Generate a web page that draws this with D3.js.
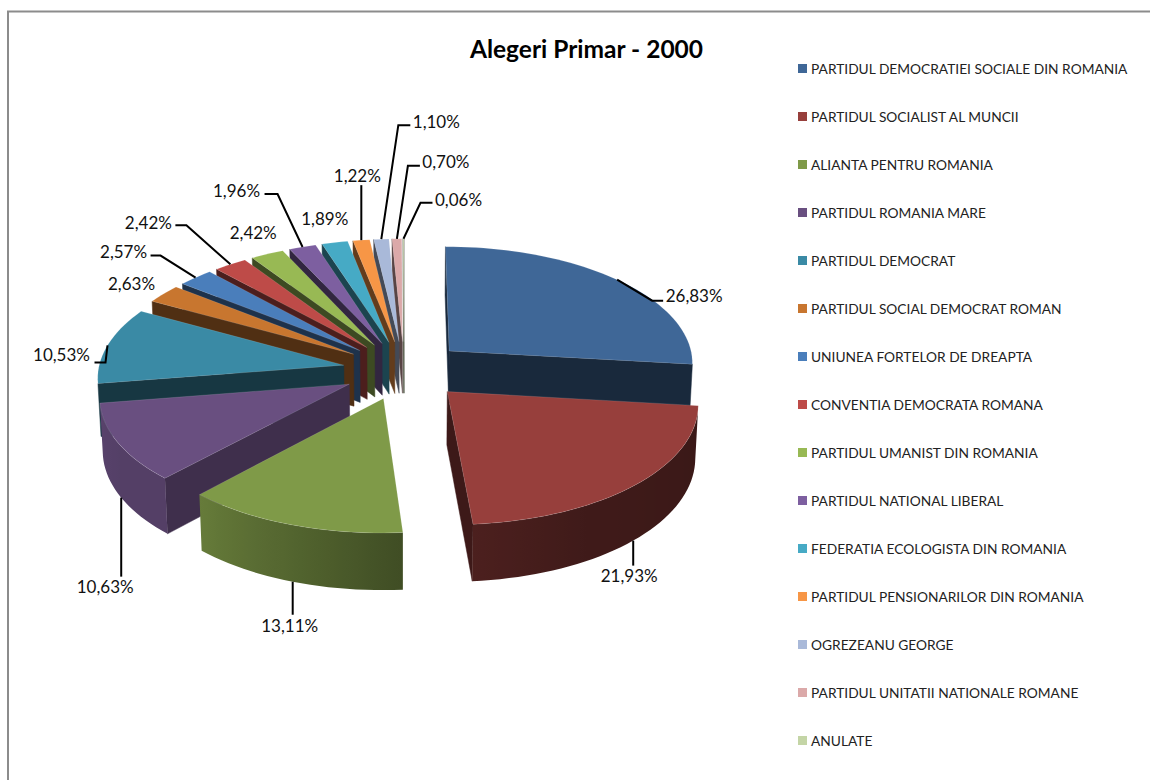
<!DOCTYPE html>
<html><head><meta charset="utf-8">
<script src="https://cdn.jsdelivr.net/npm/d3@7"></script>
<style>html,body{margin:0;padding:0;background:#fff}svg{display:block}text{font-family:Lato,"Open Sans",sans-serif}</style>
</head><body><svg id="c" width="1150" height="780"></svg>
<script>
const chartTitle = "Alegeri Primar - 2000";
const categories = ["PARTIDUL DEMOCRATIEI SOCIALE DIN ROMANIA","PARTIDUL SOCIALIST AL MUNCII","ALIANTA PENTRU ROMANIA","PARTIDUL ROMANIA MARE","PARTIDUL DEMOCRAT","PARTIDUL SOCIAL DEMOCRAT ROMAN","UNIUNEA FORTELOR DE DREAPTA","CONVENTIA DEMOCRATA ROMANA","PARTIDUL UMANIST DIN ROMANIA","PARTIDUL NATIONAL LIBERAL","FEDERATIA ECOLOGISTA DIN ROMANIA","PARTIDUL PENSIONARILOR DIN ROMANIA","OGREZEANU GEORGE","PARTIDUL UNITATII NATIONALE ROMANE","ANULATE"];
const values = [26.83,21.93,13.11,10.63,10.53,2.63,2.57,2.42,2.42,1.96,1.89,1.22,1.10,0.70,0.06];
const valueLabels = ["26,83%","21,93%","13,11%","10,63%","10,53%","2,63%","2,57%","2,42%","2,42%","1,96%","1,89%","1,22%","1,10%","0,70%","0,06%"];
const colors = ["#3f6797","#973f3c","#7f9a48","#694f80","#3a8aa5","#c8762f","#4a7ebb","#be4b48","#98b954","#7d5fa0","#46aac5","#f79646","#a9b9d9","#dba9a9","#c4d5a6"];

// label layout, offsets from each slice's rim anchor
const labelLayout = [
 {bottom:0,tx:77,ty:18,leader:[[35,21],[46,21]]},
 {bottom:1,tx:-4,ty:37,leader:[[0,25]]},
 {bottom:1,tx:-3,ty:46,leader:[[0,33]]},
 {bottom:1,tx:-16,ty:91,leader:[[0,79]]},
 {bottom:0,tx:-46,ty:11,leader:[[-2,17],[-13,17]]},
 {bottom:0,tx:-32,ty:-8,leader:null},
 {bottom:0,tx:-72,ty:-24,leader:[[-35,-22],[-45,-22]]},
 {bottom:0,tx:-82,ty:-40,leader:[[-44,-39],[-55,-39]]},
 {bottom:0,tx:-14,ty:-19,leader:null},
 {bottom:0,tx:-66,ty:-54,leader:[[-25,-53],[-38,-53]]},
 {bottom:0,tx:-10,ty:-22,leader:null},
 {bottom:0,tx:-4,ty:-62,leader:[[0,-55]]},
 {bottom:0,tx:55,ty:-115,leader:[[17,-114],[29,-114]]},
 {bottom:0,tx:49,ty:-75,leader:[[11,-73],[23,-73]]},
 {bottom:0,tx:55,ty:-37,leader:[[17,-36],[29,-36]]}
];

// view of the pie disc (radius 1) seen in perspective
const view = {cx:404, cy:370.2, ax:245.5, ay:117, depth:53, persp:0.09, shrink:0.01, explode:0.25};
function project(X, Y, h){
  const w = 1 - view.persp*Y + view.shrink*h;
  return [view.cx + view.ax*X/w, view.cy + (view.ay*Y + view.depth*h)/w];
}
const rimShade = d3.scaleLinear().domain([96,150,175,180,222,240,261,360]).range([.62,.58,.5,.47,.2,.2,.15,.15]);
const faceShade = d3.scaleLinear().domain([0,175,222,261,360]).range([.6,.6,.4,.6,.6]);
const darken = (c,t)=>d3.interpolateRgb(c,"#000")(t);
const deg = r=>r*180/Math.PI;

const svg = d3.select("#c");
const defs = svg.append("defs");
const line = d3.line();
const pie = d3.pie().sort(null).value(d=>d)(values).map((p,i)=>{
  const mid=(p.startAngle+p.endAngle)/2;
  return {i,a0:p.startAngle,a1:p.endAngle,mid,
    ox:view.explode*Math.sin(mid), oy:-view.explode*Math.cos(mid)};
});
const rimPt=(s,a,h)=>project(s.ox+Math.sin(a), s.oy-Math.cos(a), h);
const apexPt=(s,h)=>project(s.ox,s.oy,h);

// frame
svg.append("path").attr("d",line([[8,780],[8,11.5],[1150,11.5]])).attr("fill","none").attr("stroke","#8c8c8c").attr("stroke-width",2);

// slices back to front
const order = pie.slice().sort((a,b)=>d3.ascending(-Math.cos(a.mid),-Math.cos(b.mid)));
const gPie = svg.append("g");
order.forEach(s=>{
  const g=gPie.append("g"), col=colors[s.i];
  const face=(a,sign)=>{
    const q=[apexPt(s,0),rimPt(s,a,0),rimPt(s,a,1),apexPt(s,1)];
    if(-d3.polygonArea(q)*sign>0){
      const c=darken(col,faceShade(deg(a)));
      g.append("path").attr("d",line(q)+"Z").attr("fill",c).attr("stroke",c).attr("stroke-width",.5);
    }
  };
  face(s.a0,-1); face(s.a1,1);
  const n=Math.max(2,Math.ceil((s.a1-s.a0)/(Math.PI/90)));
  const angs=d3.range(n+1).map(k=>s.a0+(s.a1-s.a0)*k/n);
  // the part of the outer wall that faces the viewer, shaded along its length
  const vis=angs.filter((a,k)=>{
    const p=rimPt(s,a,0);
    return (k<n && rimPt(s,angs[k+1],0)[0]<p[0]) || (k>0 && p[0]<rimPt(s,angs[k-1],0)[0]);
  });
  if(vis.length>1){
    const x0=rimPt(s,vis[0],0)[0], x1=rimPt(s,vis[vis.length-1],0)[0];
    const id="rim"+s.i;
    const grad=defs.append("linearGradient").attr("id",id).attr("gradientUnits","userSpaceOnUse").attr("x1",x0).attr("x2",x1).attr("y1",0).attr("y2",0);
    vis.forEach(a=>grad.append("stop").attr("offset",(rimPt(s,a,0)[0]-x0)/(x1-x0)).attr("stop-color",darken(col,rimShade(deg(a)))));
    g.append("path").attr("d",line([...vis.map(a=>rimPt(s,a,0)),...vis.slice().reverse().map(a=>rimPt(s,a,1))])+"Z").attr("fill",`url(#${id})`);
  }
  g.append("path").attr("d",line([apexPt(s,0),...angs.map(a=>rimPt(s,a,0))])+"Z").attr("fill",col).attr("stroke","#fff").attr("stroke-opacity",.25).attr("stroke-width",.5);
});

// labels
const gLab=svg.append("g");
pie.forEach(s=>{
  const L=labelLayout[s.i], A=rimPt(s,s.mid,L.bottom);
  if(L.leader){
    gLab.append("path").attr("d",line([A,...L.leader.map(o=>[A[0]+o[0],A[1]+o[1]])])).attr("fill","none").attr("stroke","#000").attr("stroke-width",2);
  }
  gLab.append("text").attr("x",A[0]+L.tx).attr("y",A[1]+L.ty).attr("text-anchor","middle").attr("dominant-baseline","middle").attr("font-size",17).attr("fill","#111").text(valueLabels[s.i]);
});

// title
svg.append("text").attr("x",586.5).attr("y",52).attr("text-anchor","middle").attr("dominant-baseline","middle").attr("font-size",24.5).attr("font-weight",700).attr("fill","#000").text(chartTitle);

// legend
const legendY=d3.scalePoint().domain(categories).range([69,741]);
const leg=svg.append("g").selectAll("g").data(categories).join("g").attr("transform",d=>`translate(798,${legendY(d)})`);
leg.append("rect").attr("x",0).attr("y",-5).attr("width",9).attr("height",9).attr("fill",(d,i)=>colors[i]);
leg.append("text").attr("x",13).attr("y",2).attr("dominant-baseline","middle").attr("font-size",13.75).attr("fill","#222").text(d=>d);
</script></body></html>
